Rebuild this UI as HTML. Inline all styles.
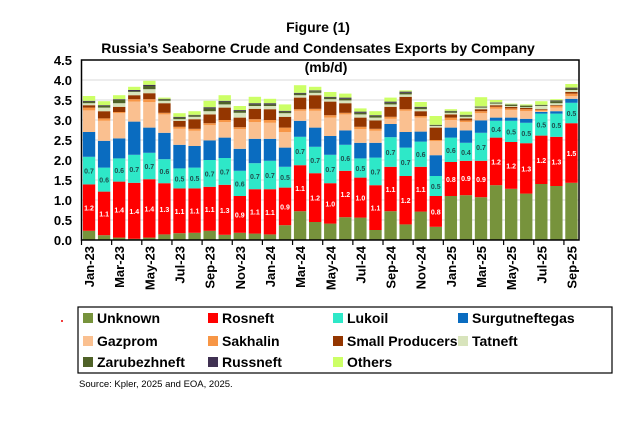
<!DOCTYPE html>
<html><head><meta charset="utf-8"><style>
body{margin:0;background:#fff;}
svg text{font-family:"Liberation Sans",sans-serif;}
</style></head><body>
<svg width="624" height="427" viewBox="0 0 624 427" xmlns="http://www.w3.org/2000/svg">
<g id="root"></g>
</svg>
<script>
const months=["Jan-23","Feb-23","Mar-23","Apr-23","May-23","Jun-23","Jul-23","Aug-23","Sep-23","Oct-23","Nov-23","Dec-23","Jan-24","Feb-24","Mar-24","Apr-24","May-24","Jun-24","Jul-24","Aug-24","Sep-24","Oct-24","Nov-24","Dec-24","Jan-25","Feb-25","Mar-25","Apr-25","May-25","Jun-25","Jul-25","Aug-25","Sep-25"];
const seriesNames=["Unknown","Rosneft","Lukoil","Surgutneftegas","Gazprom","Sakhalin","Small Producers","Tatneft","Zarubezhneft","Russneft","Others"];
const unknown=[.23,.12,.06,.03,.06,.14,.17,.18,.23,.13,.18,.16,.14,.37,.72,.45,.41,.57,.56,.25,.72,.39,.71,.33,1.1,1.12,1.07,1.37,1.28,1.16,1.4,1.35,1.43];
const rosneft=[1.16,1.09,1.4,1.4,1.46,1.28,1.12,1.11,1.1,1.25,.92,1.11,1.13,.94,1.15,1.22,1.01,1.16,1.0,1.12,1.11,1.21,1.12,.77,.85,.86,.91,1.19,1.17,1.26,1.21,1.23,1.49];
const lukoil=[.69,.6,.58,.7,.66,.6,.5,.52,.67,.67,.63,.65,.71,.52,.71,.66,.71,.65,.48,.69,.74,.71,.63,.5,.61,.45,.7,.42,.53,.51,.55,.58,.51];
const surgut=[.62,.67,.5,.83,.63,.66,.59,.54,.49,.51,.55,.61,.55,.48,.4,.48,.47,.36,.39,.37,.33,.39,.25,.52,.25,.31,.31,.08,.08,.1,.04,.06,.1];
const gazprom=[.54,.5,.63,.5,.64,.46,.4,.38,.38,.39,.49,.42,.4,.39,.25,.42,.46,.4,.34,.3,.13,.53,.35,.35,.19,.21,.18,.22,.19,.19,.02,.09,.07];
const sakhalin=[.07,.06,.03,.06,.07,.04,.05,.05,.05,.05,.05,.07,.07,.11,.04,.05,.06,.04,.06,.05,.05,.04,.04,.03,.06,.04,.05,.05,.04,.05,.03,.04,.06];
const small=[.06,.18,.13,.1,.15,.24,.15,.24,.22,.31,.24,.26,.27,.27,.29,.34,.34,.24,.23,.21,.25,.31,.12,.31,.08,.05,.05,.04,.04,.03,.02,.02,.04];
const tatneft=[.05,.09,.09,.08,.1,.06,.04,.06,.08,.08,.12,.07,.08,.09,.06,.06,.06,.07,.08,.07,.06,.06,.05,.04,.04,.04,.04,.04,.02,.02,.08,.05,.05];
const zarub=[.04,.04,.08,.02,.08,.04,.04,.04,.07,.07,.05,.04,.04,.04,.04,.04,.04,.04,.04,.04,.04,.04,.04,.02,.04,.04,.02,.02,.03,.03,.02,.05,.04];
const russneft=[.02,.02,.02,.03,.03,.01,.02,.01,.03,.02,.02,.03,.03,.02,.02,.02,.02,.03,.03,.02,.03,.03,.02,.01,.01,.01,.01,.01,.01,.01,.01,.02,.02];
const others=[.12,.1,.1,.08,.1,.03,.09,.09,.16,.14,.1,.16,.11,.16,.19,.09,.12,.1,.08,.1,.1,.03,.12,.22,.04,.08,.23,.06,.02,.03,.09,.03,.09];
const rosLabels=["1.2","1.1","1.4","1.4","1.4","1.3","1.1","1.1","1.1","1.3","0.9","1.1","1.1","0.9","1.1","1.2","1.0","1.2","1.0","1.1","1.1","1.2","1.1","0.8","0.8","0.9","0.9","1.2","1.2","1.3","1.2","1.3","1.5"];
const lukLabels=["0.7","0.6","0.6","0.7","0.7","0.6","0.5","0.5","0.7","0.7","0.6","0.7","0.7","0.5","0.7","0.7","0.7","0.6","0.5","0.7","0.7","0.7","0.6","0.5","0.6","0.4","0.7","0.4","0.5","0.5","0.5","0.5","0.5"];
const yTicks=["0.0","0.5","1.0","1.5","2.0","2.5","3.0","3.5","4.0","4.5"];

const series=[unknown,rosneft,lukoil,surgut,gazprom,sakhalin,small,tatneft,zarub,russneft,others];
const colors=["#77933c","#ff0000","#2ee8c8","#0a6cc0","#fac090","#f79646","#943600","#d8e4bc","#4f6228","#403152","#ccff66"];
const keys=["unknown","rosneft","lukoil","surgutneftegas","gazprom","sakhalin","small-producers","tatneft","zarubezhneft","russneft","others"];
const NS="http://www.w3.org/2000/svg";
const root=document.getElementById('root');
const X0=81.5,X1=579,Y0=240,YMAX=4.5,PT=60;
const band=(X1-X0)/months.length;
const xc=i=>X0+band*(i+0.5);
const y=v=>Y0-(v/YMAX)*(Y0-PT);
function mk(tag,attrs,parent){const e=document.createElementNS(NS,tag);for(const k in attrs)e.setAttribute(k,attrs[k]);(parent||root).appendChild(e);return e;}

// titles
let t=mk('text',{x:318,y:32,'text-anchor':'middle','font-size':'14','font-weight':'bold'});t.textContent="Figure (1)";


t=mk('text',{x:318,y:53,'text-anchor':'middle','font-size':'14','font-weight':'bold'});t.textContent="Russia’s Seaborne Crude and Condensates Exports by Company";



// gridlines & y labels
yTicks.forEach(s=>{const v=parseFloat(s);
 if(v>0&&v<YMAX){const g=mk('line',{x1:X0,x2:X1,y1:y(v),y2:y(v),stroke:'#d9d9d9','stroke-width':1});
 
 }
 const l=mk('text',{x:72,y:y(v)+5,'text-anchor':'end','font-size':'13','font-weight':'bold'});l.textContent=s;
 
 
});
t=mk('text',{x:326,y:72,'text-anchor':'middle','font-size':'14','font-weight':'bold'});t.textContent="(mb/d)";



// bars
const bw=band*0.82;
months.forEach((m,i)=>{let cum=0;
 series.forEach((arr,s)=>{const v=arr[i];const r=mk('rect',{x:xc(i)-bw/2,y:y(cum+v),width:bw,height:Math.max(0,y(cum)-y(cum+v)),fill:colors[s]});
  
  
  if(s===1){const l=mk('text',{x:xc(i),y:(y(cum)+y(cum+v))/2+3,'text-anchor':'middle','font-size':'7','font-weight':'bold',fill:'#fff'});l.textContent=rosLabels[i];
   
   }
  if(s===2){const l=mk('text',{x:xc(i),y:(y(cum)+y(cum+v))/2+3,'text-anchor':'middle','font-size':'7','font-weight':'bold',fill:'#1f4f4f'});l.textContent=lukLabels[i];
   
   }
  cum+=v;});
});

// plot frame
let f=mk('rect',{x:X0,y:PT,width:X1-X0,height:Y0-PT,fill:'none',stroke:'#000','stroke-width':1.5});



// x ticks and labels
months.forEach((m,i)=>{
 if(i%2===0){const tk=mk('line',{x1:X0+band*i,x2:X0+band*i,y1:Y0,y2:Y0+5,stroke:'#000','stroke-width':1.2});
  
  
  const l=mk('text',{x:0,y:0,'text-anchor':'end','font-size':'13','font-weight':'bold',transform:`translate(${xc(i)+5},246) rotate(-90)`});l.textContent=m;
  
  }
});

// legend
const lg=mk('rect',{x:78,y:307,width:534,height:66,fill:'none',stroke:'#000','stroke-width':1.2});


const cols=[87,212,337,462],rows=[318,341,362];
seriesNames.forEach((n,k)=>{const cx=cols[k%4],cy=rows[Math.floor(k/4)];
 const sw=mk('rect',{x:cx-4,y:cy-5,width:10,height:10,fill:colors[k]});
 
 
 const l=mk('text',{x:cx+10,y:cy+5,'font-size':'14','font-weight':'bold'});l.textContent=n;
 
 
});
const dot=mk('circle',{cx:62,cy:321,r:1,fill:'#e00'});


t=mk('text',{x:79,y:387,'font-size':'9.5'});t.textContent="Source: Kpler, 2025 and EOA, 2025.";


</script>
</body></html>
